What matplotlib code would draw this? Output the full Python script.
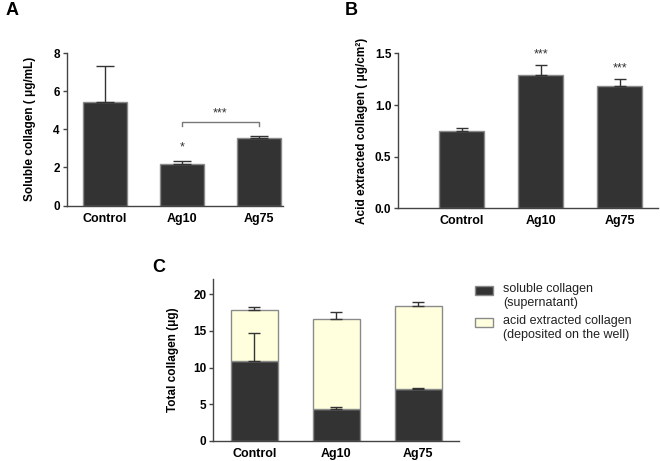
import numpy as np
import matplotlib
matplotlib.use('Agg')
import matplotlib.pyplot as plt
from matplotlib.patches import Rectangle

plt.rcParams['font.family'] = ['Liberation Sans', 'DejaVu Sans']

groups = ['Control', 'Ag10', 'Ag75']

# A: soluble collagen (ug/mL)
solubleConc = [5.43, 2.19, 3.54]
solubleConcErr = [1.89, 0.17, 0.12]

# B: acid extracted collagen (ug/cm2)
acidConc = [0.748, 1.293, 1.187]
acidConcErr = [0.029, 0.094, 0.065]

# C: total collagen (ug), stacked
solubleMass = [10.9, 4.41, 7.09]
solubleMassErr = [3.74, 0.27, 0.18]
acidMass = [6.97, 12.19, 11.28]
acidMassErr = [0.31, 0.9, 0.59]

legendLabels = ['soluble collagen\n(supernatant)',
                'acid extracted collagen\n(deposited on the well)']

DARK = '#333333'
LIGHT = '#ffffdd'
EDGE = '#8a8a8a'
AXC = '#444444'
FS = 8.5


def style_axes(ax, yticks, ylabel, labelpad):
  for s in ['top', 'right']:
    ax.spines[s].set_visible(False)
  for s in ['left', 'bottom']:
    ax.spines[s].set_color(AXC)
    ax.spines[s].set_linewidth(1.0)
  ax.tick_params(axis='both', direction='out', length=3, width=1.0, color=AXC,
                 labelsize=FS, pad=2)
  ax.tick_params(axis='x', length=0, pad=5)
  ax.set_yticks(yticks)
  ax.set_xticks(range(len(groups)))
  ax.set_xticklabels(groups, fontweight='bold', fontsize=FS + 0.5)
  for t in ax.get_yticklabels():
    t.set_fontweight('bold')
  ax.set_ylabel(ylabel, fontweight='bold', fontsize=FS, labelpad=labelpad)


def up_errors(ax, x, top, err, capsize):
  ax.errorbar(x, top, yerr=[np.zeros(len(err)), err], fmt='none',
              ecolor=DARK, elinewidth=1.0, capsize=capsize, capthick=1.0, zorder=3)


fig = plt.figure(figsize=(6.6, 4.61), dpi=100)
x = np.arange(len(groups))

# ---- panel A
axA = fig.add_axes([0.101, 0.554, 0.328, 0.331])
axA.bar(x, solubleConc, width=0.57, color=DARK, edgecolor=EDGE, linewidth=1.0, zorder=2)
up_errors(axA, x, solubleConc, solubleConcErr, 6.5)
axA.set_xlim(-0.49, 2.31)
axA.set_ylim(0, 8)
style_axes(axA, [0, 2, 4, 6, 8], 'Soluble collagen ( μg/mL)', 12)
axA.plot([1, 1, 2, 2], [4.18, 4.36, 4.36, 4.18], color='#777777', lw=1.0)
axA.text(1.5, 4.85, '***', ha='center', va='center', fontsize=9, color=DARK)
axA.text(1, 3.05, '*', ha='center', va='center', fontsize=9, color=DARK)

# ---- panel B
axB = fig.add_axes([0.6035, 0.548, 0.394, 0.336])
axB.bar(x, acidConc, width=0.57, color=DARK, edgecolor=EDGE, linewidth=1.0, zorder=2)
up_errors(axB, x, acidConc, acidConcErr, 4.5)
axB.set_xlim(-0.8, 2.49)
axB.set_ylim(0, 1.5)
style_axes(axB, [0.0, 0.5, 1.0, 1.5], 'Acid extracted collagen ( μg/cm²)', 5)
axB.set_yticklabels(['0.0', '0.5', '1.0', '1.5'], fontweight='bold')
for i, (v, e) in enumerate(zip(acidConc, acidConcErr)):
  if i > 0:
    axB.text(i, v + e + 0.1, '***', ha='center', va='center', fontsize=9, color=DARK)

# ---- panel C
axC = fig.add_axes([0.3232, 0.0434, 0.3728, 0.3506])
totals = np.array(solubleMass) + np.array(acidMass)
axC.bar(x, solubleMass, width=0.57, color=DARK, edgecolor=EDGE, linewidth=1.0, zorder=2)
axC.bar(x, acidMass, bottom=solubleMass, width=0.57, color=LIGHT, edgecolor=EDGE,
        linewidth=1.0, zorder=2)
up_errors(axC, x, solubleMass, solubleMassErr, 4.5)
up_errors(axC, x, totals, acidMassErr, 4.5)
axC.set_xlim(-0.5, 2.5)
axC.set_ylim(0, 22)
style_axes(axC, [0, 5, 10, 15, 20], 'Total collagen (μg)', 10)

# legend, handle aligned with first text line (as in the original)
W, H = 660.0, 461.0
for i, (col, lab) in enumerate(zip([DARK, LIGHT], legendLabels)):
  yc = 290.5 + i * 32
  fig.patches.append(Rectangle((475 / W, 1 - (yc + 4.5) / H), 18 / W, 9 / H,
                               facecolor=col, edgecolor=EDGE, linewidth=1.0,
                               transform=fig.transFigure, figure=fig))
  fig.text(503 / W, 1 - (yc - 7.5) / H, lab, fontsize=9, va='top', ha='left',
           linespacing=1.2, color='#222222')

# panel letters
fig.text(0.008, 0.995, 'A', fontsize=13, fontweight='bold', va='top')
fig.text(0.523, 0.995, 'B', fontsize=13, fontweight='bold', va='top')
fig.text(0.231, 0.438, 'C', fontsize=13, fontweight='bold', va='top')

fig.savefig('out.png', dpi=100)
